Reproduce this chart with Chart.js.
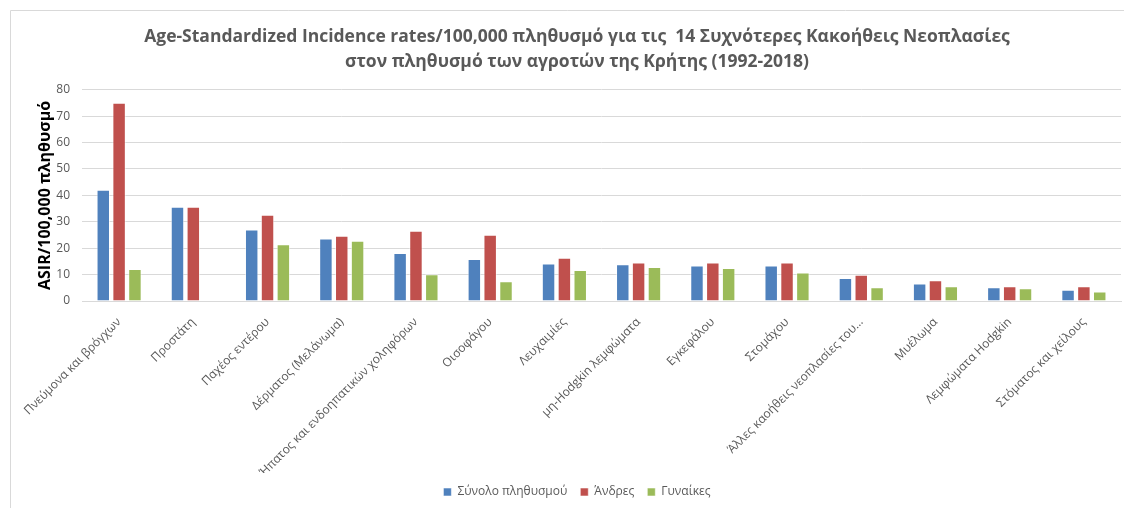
<!DOCTYPE html>
<html lang="el">
<head>
<meta charset="UTF-8">
<title>ASIR Κρήτη</title>
<script src="https://cdn.jsdelivr.net/npm/chart.js@4.4.1/dist/chart.umd.min.js"></script>
<style>
  html, body { margin: 0; padding: 0; background: #fff; }
  #wrap { width: 1124px; height: 508px; position: relative; }
</style>
</head>
<body>
<div id="wrap"><canvas id="grafima" width="1124" height="508"></canvas></div>
<script>
// --- Δεδομένα ---
const katigories = [
  "Πνεύμονα και βρόγχων",
  "Προστάτη",
  "Παχέος εντέρου",
  "Δέρματος (Μελάνωμα)",
  "Ήπατος και ενδοηπατικών χοληφόρων",
  "Οισοφάγου",
  "Λευχαιμίες",
  "μη-Hodgkin λεμφώματα",
  "Εγκεφάλου",
  "Στομάχου",
  "Άλλες καοήθεις νεοπλασίες του…",
  "Μυέλωμα",
  "Λεμφώματα Hodgkin",
  "Στόματος και χείλους"
];
const synolo = [42.1, 35.7, 27.1, 23.7, 18.2, 15.9, 14.2, 13.9, 13.4, 13.4, 8.7, 6.6, 5.2, 4.3];
const andres = [75.1, 35.7, 32.7, 24.7, 26.6, 25.1, 16.4, 14.6, 14.6, 14.6, 9.9, 7.9, 5.6, 5.6];
const gynaikes = [12.1, null, 21.5, 22.8, 10.1, 7.5, 11.7, 12.9, 12.5, 10.8, 5.2, 5.6, 4.8, 3.6];
const yTicks = [0, 10, 20, 30, 40, 50, 60, 70, 80];

const grammatoseira = "'Open Sans', 'DejaVu Sans', sans-serif";
const gri = "#595959";

// πλαίσιο γύρω από το γράφημα (μόνο πάνω και αριστερά φαίνεται)
const plaisio = {
  id: "plaisio",
  beforeDraw(chart) {
    const c = chart.ctx;
    c.save();
    c.strokeStyle = "#d9d9d9";
    c.lineWidth = 1;
    c.beginPath();
    c.moveTo(10.5, chart.height);
    c.lineTo(10.5, 10.5);
    c.lineTo(chart.width, 10.5);
    c.stroke();
    c.restore();
  }
};

function seira(label, data, xroma) {
  return {
    label,
    data,
    backgroundColor: xroma,
    borderColor: "rgba(255,255,255,0.55)",
    borderWidth: 1,
    categoryPercentage: 0.64,
    barPercentage: 0.85
  };
}

new Chart(document.getElementById("grafima"), {
  type: "bar",
  data: {
    labels: katigories,
    datasets: [
      seira("Σύνολο πληθυσμού", synolo, "#4F81BD"),
      seira("Άνδρες", andres, "#C0504D"),
      seira("Γυναίκες", gynaikes, "#9BBB59")
    ]
  },
  plugins: [plaisio],
  options: {
    responsive: false,
    animation: false,
    layout: { padding: { left: 33, right: 3, top: 0, bottom: 0 } },
    plugins: {
      title: {
        display: true,
        text: [
          "Age-Standardized Incidence rates/100,000 πληθυσμό για τις  14 Συχνότερες Κακοήθεις Νεοπλασίες",
          "στον πληθυσμό των αγροτών της Κρήτης (1992-2018)"
        ],
        color: gri,
        font: { family: grammatoseira, size: 17.5, weight: "bold", lineHeight: 1.45 },
        padding: { top: 24, bottom: 15 }
      },
      legend: {
        position: "bottom",
        labels: {
          color: gri,
          font: { family: grammatoseira, size: 12 },
          boxWidth: 8,
          boxHeight: 8,
          padding: 13
        }
      },
      tooltip: { enabled: false }
    },
    scales: {
      x: {
        grid: { display: false },
        border: { color: "#d9d9d9" },
        ticks: {
          color: gri,
          font: { family: grammatoseira, size: 12 },
          minRotation: 45,
          maxRotation: 45,
          autoSkip: false,
          padding: 6
        },
        afterFit(scale) { scale.height = 172; }
      },
      y: {
        min: 0,
        max: 80,
        afterBuildTicks(scale) { scale.ticks = yTicks.map(v => ({ value: v })); },
        grid: { color: "#d9d9d9", drawTicks: false },
        border: { display: false },
        ticks: {
          color: gri,
          font: { family: grammatoseira, size: 12 },
          padding: 12
        },
        title: {
          display: true,
          text: "ASIR/100,000 πληθυσμό",
          color: "#000",
          font: { family: grammatoseira, size: 16, weight: "bold" },
          padding: { top: 3, bottom: 3 }
        },
        afterFit(scale) { scale.width = 49; }
      }
    }
  }
});
</script>
</body>
</html>
